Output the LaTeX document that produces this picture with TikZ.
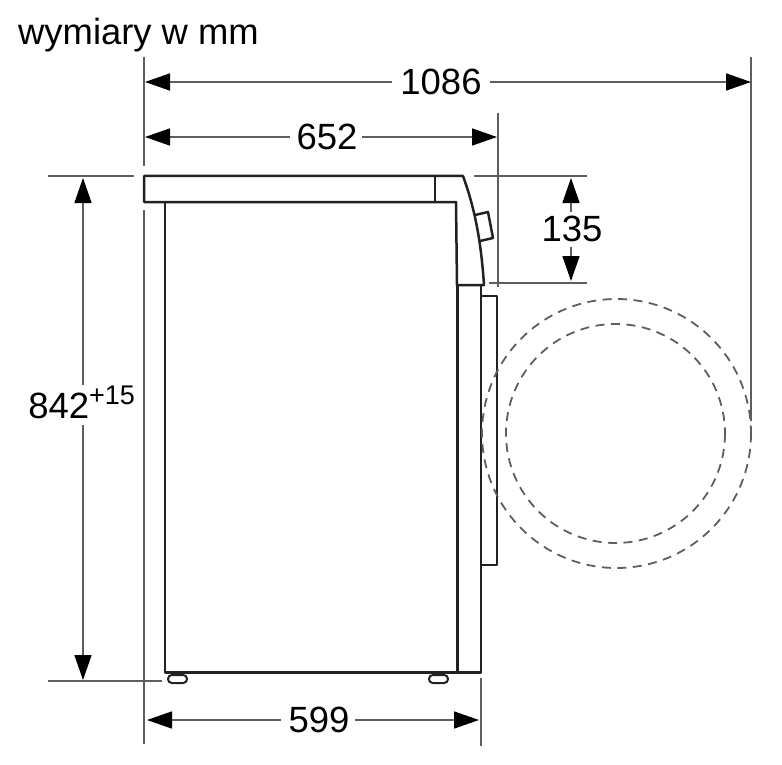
\documentclass[tikz,border=0pt]{standalone}
\usepackage{fontspec}
\setmainfont{Liberation Sans}
\usetikzlibrary{arrows.meta}
\definecolor{dimgray}{HTML}{5E5E5E}
\definecolor{bodyink}{HTML}{222222}
\tikzset{
  body/.style={draw=bodyink,line width=2.5pt,line join=round},
  extline/.style={draw=dimgray,line width=1.6pt},
  halfdim/.style={draw=dimgray,line width=1.6pt,-{Stealth[inset=0pt,length=25pt,width=17pt,black]}},
  swing/.style={draw=dimgray,line width=1.8pt,dash pattern=on 9pt off 6.5pt},
  lab/.style={inner sep=0pt,outer sep=0pt,font=\fontsize{36.5}{40}\selectfont},
}
\begin{document}
\begin{tikzpicture}[x=1pt,y=-1pt]
\useasboundingbox (0,0) rectangle (782,765);
% title
\node[anchor=west,inner sep=0pt,font=\fontsize{36.4}{42}\selectfont] (title) at (18,35) {wymiary w mm};
% extension lines
\coordinate (e1a) at (144,57); \coordinate (e1b) at (144,166);
\coordinate (e2a) at (144,210); \coordinate (e2b) at (144,744);
\coordinate (e3a) at (751,57); \coordinate (e3b) at (751,421);
\coordinate (e4a) at (498,113); \coordinate (e4b) at (498,287);
\coordinate (e5a) at (48,176); \coordinate (e5b) at (134,176);
\coordinate (e6a) at (474,176); \coordinate (e6b) at (587,176);
\coordinate (e7a) at (489,283); \coordinate (e7b) at (587,283);
\coordinate (e8a) at (48,681); \coordinate (e8b) at (162,681);
\coordinate (e9a) at (481,678); \coordinate (e9b) at (481,746);
\foreach \n in {1,...,9}{\draw[extline] (e\n a) -- (e\n b);}
% labels
\node[lab] (l1086) at (441,82) {1086};
\node[lab] (l652) at (327,137) {652};
\node[lab] (l135) at (572,229) {135};
\node[lab] (l599) at (319,720) {599};
\node[lab,anchor=east] (l842) at (135,402) {842\raisebox{14pt}{\fontsize{27}{30}\selectfont +15}};
% dimension arrows
\coordinate (a1l) at (145,82); \coordinate (a1r) at (751,82);
\coordinate (g1l) at (392,82); \coordinate (g1r) at (490,82);
\draw[halfdim] (g1l) -- (a1l); \draw[halfdim] (g1r) -- (a1r);
\coordinate (a2l) at (145,137); \coordinate (a2r) at (497,137);
\coordinate (g2l) at (290,137); \coordinate (g2r) at (362,137);
\draw[halfdim] (g2l) -- (a2l); \draw[halfdim] (g2r) -- (a2r);
\coordinate (a3u) at (571,178); \coordinate (a3d) at (571,281);
\coordinate (g3u) at (571,212); \coordinate (g3d) at (571,247);
\draw[halfdim] (g3u) -- (a3u); \draw[halfdim] (g3d) -- (a3d);
\coordinate (a4l) at (147,720); \coordinate (a4r) at (479,720);
\coordinate (g4l) at (281,720); \coordinate (g4r) at (355,720);
\draw[halfdim] (g4l) -- (a4l); \draw[halfdim] (g4r) -- (a4r);
\coordinate (a5u) at (83,178); \coordinate (a5d) at (83,680);
\coordinate (g5u) at (83,385); \coordinate (g5d) at (83,425);
\draw[halfdim] (g5u) -- (a5u); \draw[halfdim] (g5d) -- (a5d);
% machine
\draw[body] (144,202) -- (456,202) -- (457,285) -- (484,285)
  .. controls (481,241) and (475,209) .. (463,176) -- (144,176) -- cycle;
\draw[body] (435,176) -- (435,202);
\draw[body] (475,215) -- (488,212) -- (493,238) -- (480,241);
\draw[body] (165,202) -- (165,672.5) -- (481,672.5) -- (481,285);
\draw[body] (457.5,285) -- (457.5,672.5);
\draw[body] (482,296) -- (497,296) -- (497,565) -- (482,565);
% feet
\draw[body,line width=2pt,rounded corners=3.8pt] (168,675) rectangle (187,683);
\draw[body,line width=2pt,rounded corners=3.8pt] (429,675) rectangle (448,683);
\draw[body,line width=1.8pt] (173,675) -- (173,673) (182,675) -- (182,673) (434,675) -- (434,673) (443,675) -- (443,673);
% swing of the door
\draw[swing] (616.5,433.5) circle[radius=134.5];
\draw[swing] (615.5,433.5) circle[radius=109.5];
\end{tikzpicture}
\end{document}
